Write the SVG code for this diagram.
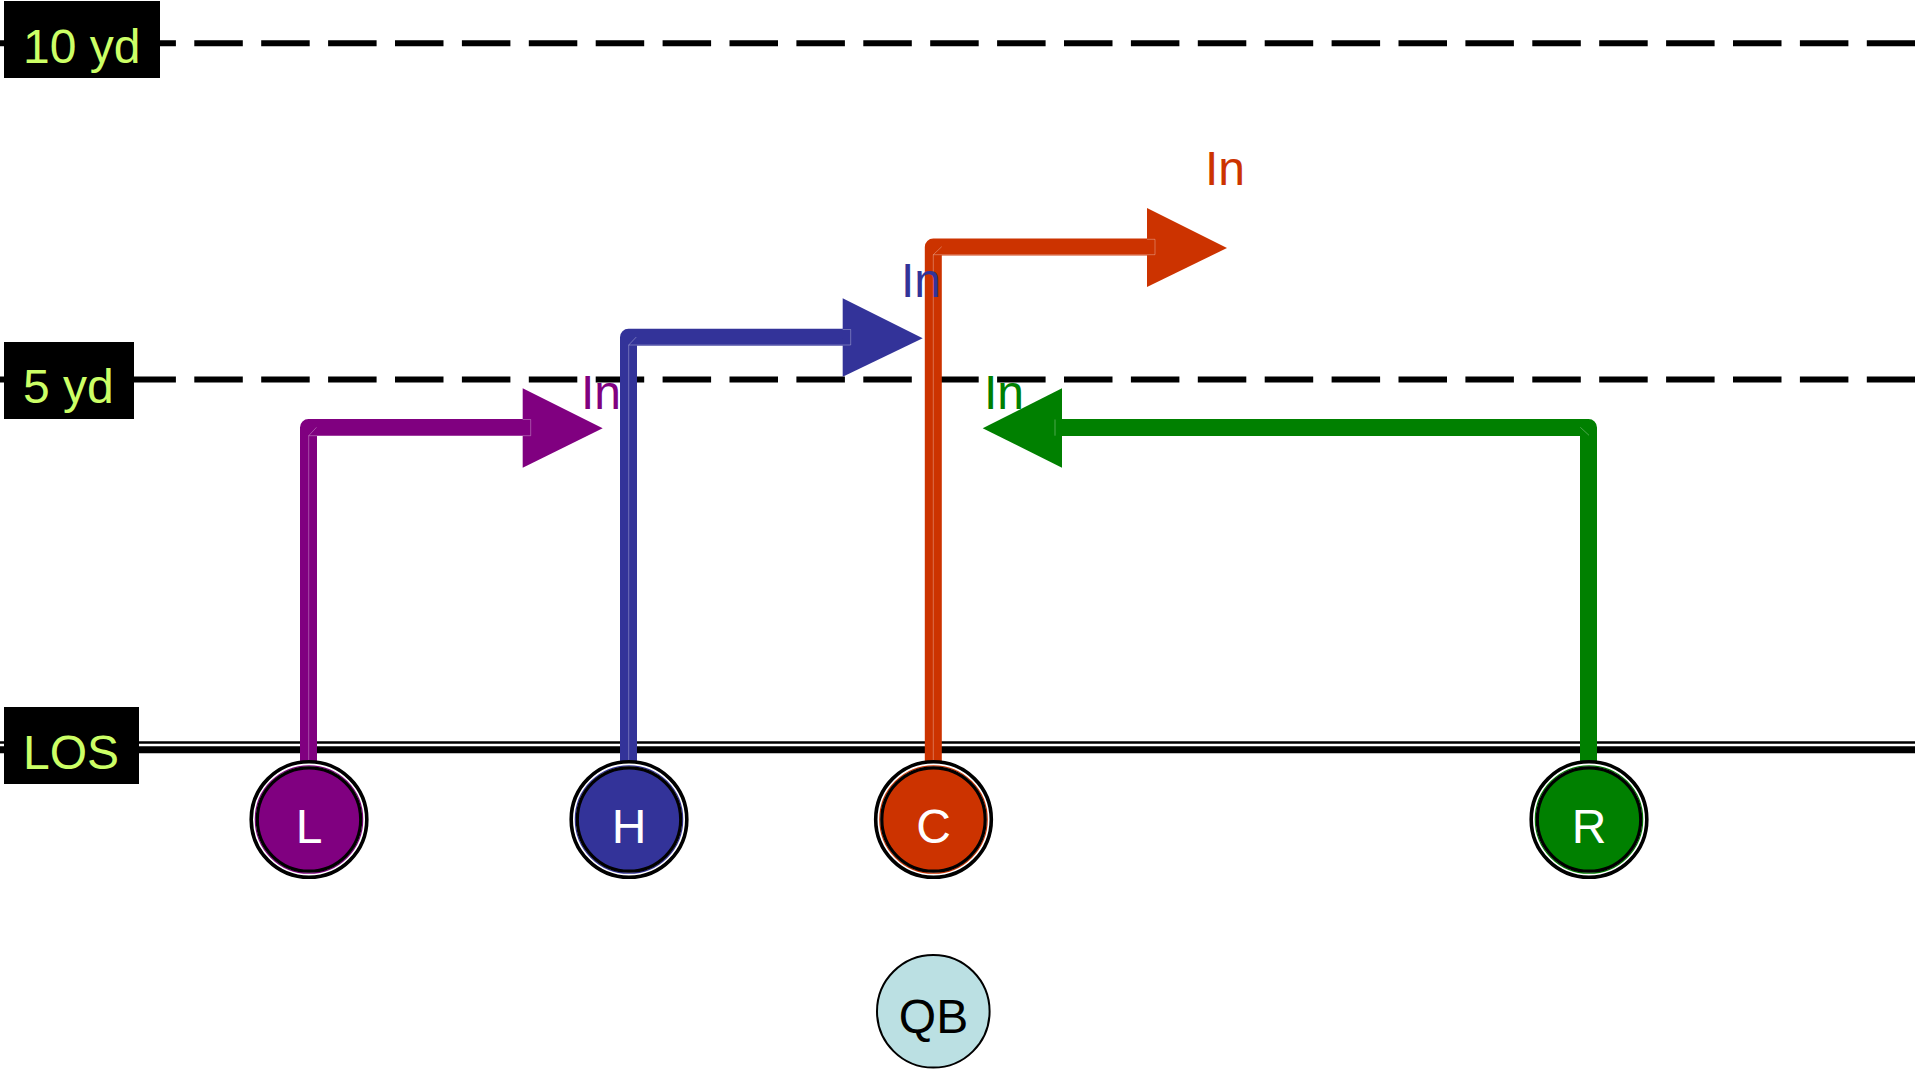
<svg xmlns="http://www.w3.org/2000/svg" width="1915" height="1071" viewBox="0 0 1915 1071">
<style>
.yard{stroke:#000;stroke-width:6;stroke-dasharray:48.5 18.4;stroke-dashoffset:6.4;fill:none}
.lbl{fill:#000}
.lbltxt{font-family:"Liberation Sans",Arial,sans-serif;font-size:48px;fill:#ccff66}
.route{fill:none;stroke-width:17;stroke-linejoin:round;stroke-linecap:butt}
.seam{fill:none;stroke:#fff;stroke-opacity:0.3;stroke-width:1}
.rlabel{font-family:"Liberation Sans",Arial,sans-serif;font-size:48px}
.ptxt{font-family:"Liberation Sans",Arial,sans-serif;font-size:48px;fill:#fff;text-anchor:middle}
.ring{fill:#fff;stroke:#000;stroke-width:3.6}
.core{stroke:#000;stroke-width:3.2}
</style>
<rect width="1915" height="1071" fill="#fff"/>
<g id="field">
<line class="yard" x1="0" y1="43.3" x2="1915" y2="43.3"/>
<line class="yard" x1="0" y1="379.5" x2="1915" y2="379.5"/>
<line x1="0" y1="742.5" x2="1915" y2="742.5" stroke="#000" stroke-width="2.4"/>
<line x1="0" y1="749.8" x2="1915" y2="749.8" stroke="#000" stroke-width="7"/>
</g>
<g id="label-10yd"><rect class="lbl" x="4" y="1" width="156" height="77"/><text class="lbltxt" x="23" y="63">10 yd</text></g>
<g id="label-5yd"><rect class="lbl" x="4" y="342" width="130" height="77"/><text class="lbltxt" x="23" y="403">5 yd</text></g>
<g id="label-los"><rect class="lbl" x="4" y="707" width="135" height="77"/><text class="lbltxt" x="23" y="769">LOS</text></g>
<g id="connectors">
<g id="route-L">
<path class="route" stroke="#800080" d="M308.5 765 V427.5 H531"/>
<polygon fill="#800080" points="522.7,388.3 602.7,428.3 522.7,467.7"/>
<path class="seam" d="M308.7 765 V435.7 H530.7 V419.5 H522.7 M308.7 435.7 L316.5 427.3"/>
</g>
<g id="route-H">
<path class="route" stroke="#333399" d="M628.5 765 V337.2 H851"/>
<polygon fill="#333399" points="842.7,298.3 922.7,338.3 842.7,376.7"/>
<path class="seam" d="M628.7 765 V345 H850.7 V329.5 H842.7 M628.7 345 L636.3 337"/>
</g>
<g id="route-C">
<path class="route" stroke="#cc3300" d="M933.3 765 V247 H1155"/>
<polygon fill="#cc3300" points="1147,208 1227,248 1147,287"/>
<path class="seam" d="M933.3 765 V254.7 H1155 V239.3 H1147 M933.3 254.7 L941.7 246.7"/>
</g>
<g id="route-R">
<path class="route" stroke="#008000" d="M1588.5 765 V427.5 H1055"/>
<polygon fill="#008000" points="1062,388.3 982.7,428.3 1062,467.7"/>
<path class="seam" d="M1055 419.5 V435.7 M1580.3 427.3 L1589 435.3"/>
</g>
</g>
<g id="route-labels">
<text class="rlabel" x="581" y="409" fill="#800080">In</text>
<text class="rlabel" x="901" y="297" fill="#333399">In</text>
<text class="rlabel" x="1205" y="185" fill="#cc3300">In</text>
<text class="rlabel" x="984" y="409" fill="#008000">In</text>
</g>
<g id="player-L">
<circle class="ring" cx="309" cy="819.5" r="57.8"/>
<circle cx="309" cy="819.5" r="53.7" fill="none" stroke="#800080" stroke-width="1.2"/>
<circle class="core" cx="309" cy="819.5" r="51.7" fill="#800080"/>
<text class="ptxt" x="309" y="843">L</text>
</g>
<g id="player-H">
<circle class="ring" cx="629" cy="819.5" r="57.8"/>
<circle cx="629" cy="819.5" r="53.7" fill="none" stroke="#333399" stroke-width="1.2"/>
<circle class="core" cx="629" cy="819.5" r="51.7" fill="#333399"/>
<text class="ptxt" x="629" y="843">H</text>
</g>
<g id="player-C">
<circle class="ring" cx="933.5" cy="819.5" r="57.8"/>
<circle cx="933.5" cy="819.5" r="53.7" fill="none" stroke="#cc3300" stroke-width="1.2"/>
<circle class="core" cx="933.5" cy="819.5" r="51.7" fill="#cc3300"/>
<text class="ptxt" x="933.5" y="843">C</text>
</g>
<g id="player-R">
<circle class="ring" cx="1589" cy="819.5" r="57.8"/>
<circle cx="1589" cy="819.5" r="53.7" fill="none" stroke="#008000" stroke-width="1.2"/>
<circle class="core" cx="1589" cy="819.5" r="51.7" fill="#008000"/>
<text class="ptxt" x="1589" y="843">R</text>
</g>
<g id="player-QB">
<circle cx="933.3" cy="1011.3" r="56.3" fill="#bbe0e3" stroke="#000" stroke-width="2"/>
<text class="ptxt" x="933.5" y="1033" style="fill:#000">QB</text>
</g>
</svg>
